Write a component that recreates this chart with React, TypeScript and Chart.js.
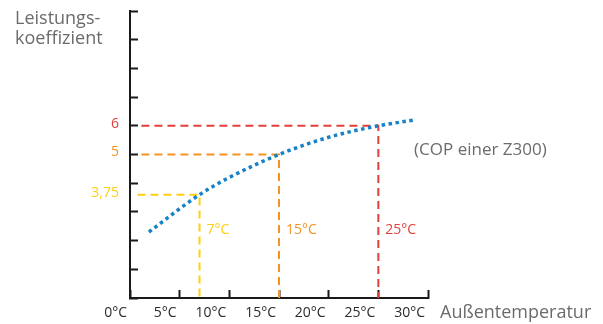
import React, { useEffect, useRef } from "react";
import { Chart, registerables } from "chart.js";

Chart.register(...registerables);

// ---- data ----
const tempTicks = [0, 5, 10, 15, 20, 25, 30];
const copTicks = [0, 1, 2, 3, 4, 5, 6, 7, 8, 9, 10];
const curveTemps = [1.9, 7, 10, 15, 20, 25, 28.6];
const curveCops = [2.3, 3.6, 4.2, 5.0, 5.6, 6.0, 6.2];
const markerTemps = [7, 15, 25];
const markerCops = [3.6, 5, 6];
const markerCopLabels = ["3,75", "5", "6"];
const markerTempLabels = ["7°C", "15°C", "25°C"];
const markerStarts = [0.75, 1.15, 1.15];
const markerColors = ["#ffcf10", "#f39324", "#e4403b"];
const yAxisTitle = ["Leistungs-", "koeffizient"];
const xAxisTitle = "Außentemperatur";
const seriesNote = "(COP einer Z300)";

const FONT = '"Open Sans", "DejaVu Sans", sans-serif';
const AXIS = "#1a1a1a";
const GRAY = "#6b6b6b";
const BLUE = "#1683c7";

const textPlugin = {
  id: "texts",
  afterDraw(chart: any) {
    const { ctx, scales } = chart;
    const x = scales.x;
    const y = scales.y;
    ctx.save();
    ctx.fillStyle = GRAY;
    ctx.font = `18px ${FONT}`;
    ctx.textAlign = "left";
    ctx.textBaseline = "alphabetic";
    ctx.fillText(yAxisTitle[0], 15, 24);
    ctx.fillText(yAxisTitle[1], 15, 44);
    ctx.textBaseline = "middle";
    ctx.fillText(xAxisTitle, x.right + 12, x.top + 15);
    ctx.font = `17px ${FONT}`;
    ctx.fillText(seriesNote, x.getPixelForValue(28.6), y.getPixelForValue(5.16));
    ctx.font = `14px ${FONT}`;
    markerTemps.forEach((t, i) => {
      ctx.fillStyle = markerColors[i];
      ctx.fillText(markerTempLabels[i], x.getPixelForValue(t) + 7, y.getPixelForValue(2.37));
    });
    ctx.restore();
  },
};

export default function App() {
  const ref = useRef<HTMLCanvasElement | null>(null);
  useEffect(() => {
    if (!ref.current) return;
    const markerSets = markerTemps.map((t, i) => ({
      data: [
        { x: markerStarts[i], y: markerCops[i] },
        { x: t, y: markerCops[i] },
        { x: t, y: 0 },
      ],
      showLine: true,
      borderColor: markerColors[i],
      borderWidth: 2,
      borderDash: [8, 5],
      pointRadius: 0,
      tension: 0,
      clip: false,
    }));
    const chart = new Chart(ref.current, {
      type: "scatter",
      data: {
        datasets: [
          {
            data: curveTemps.map((t, i) => ({ x: t, y: curveCops[i] })),
            showLine: true,
            borderColor: BLUE,
            borderWidth: 3.5,
            borderDash: [3.5, 3.5],
            borderCapStyle: "butt",
            pointRadius: 0,
            cubicInterpolationMode: "monotone",
          },
          ...markerSets,
        ] as any,
      },
      options: {
        responsive: false,
        animation: false,
        events: [],
        layout: { padding: { left: 0, top: 11, right: 175, bottom: 0 } },
        plugins: { legend: { display: false }, tooltip: { enabled: false } },
        scales: {
          x: {
            type: "linear",
            min: 0,
            max: 30,
            afterBuildTicks: (s: any) => {
              s.ticks = tempTicks.map((v) => ({ value: v }));
            },
            afterFit: (s: any) => {
              s.height = 26;
              s.paddingLeft = 0;
              s.paddingRight = 0;
            },
            border: { color: AXIS, width: 2 },
            grid: {
              drawOnChartArea: false,
              tickLength: -8,
              tickWidth: 2,
              tickColor: AXIS,
            },
            ticks: {
              autoSkip: false,
              maxRotation: 0,
              align: "end",
              labelOffset: -3,
              padding: 15,
              color: "#2a2a2a",
              font: { family: FONT, size: 14 },
              callback: (v: any) => `${v}°C`,
            },
          },
          y: {
            type: "linear",
            min: 0,
            max: 10,
            afterBuildTicks: (s: any) => {
              const vals = [...copTicks, ...markerCops.filter((c) => !copTicks.includes(c))];
              vals.sort((a, b) => a - b);
              s.ticks = vals.map((v) => ({ value: v }));
            },
            afterFit: (s: any) => {
              s.width = 130;
              s.paddingTop = 0;
              s.paddingBottom = 0;
            },
            border: { color: AXIS, width: 2 },
            grid: {
              drawOnChartArea: false,
              tickLength: -8,
              tickWidth: 2,
              tickColor: (c: any) =>
                c.tick && copTicks.includes(c.tick.value) ? AXIS : "rgba(0,0,0,0)",
            },
            ticks: {
              autoSkip: false,
              padding: 19,
              labelOffset: -2,
              font: { family: FONT, size: 14 },
              color: (c: any) => {
                const i = c.tick ? markerCops.indexOf(c.tick.value) : -1;
                return i >= 0 ? markerColors[i] : "#000";
              },
              callback: (v: any) => {
                const i = markerCops.indexOf(Number(v));
                return i >= 0 ? markerCopLabels[i] : "";
              },
            },
          },
        },
      } as any,
      plugins: [textPlugin],
    });
    return () => chart.destroy();
  }, []);
  return (
    <div style={{ position: "fixed", left: 0, top: 0, width: 603, height: 324, background: "#fff" }}>
      <canvas ref={ref} width={603} height={324} style={{ display: "block" }} />
    </div>
  );
}
